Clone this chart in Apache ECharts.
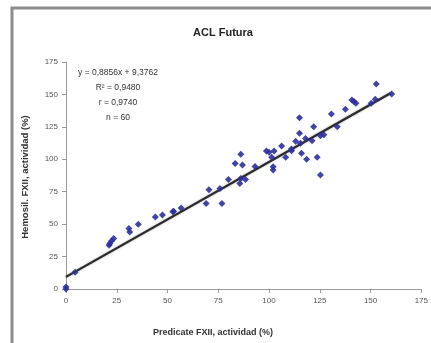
<!DOCTYPE html>
<html><head><meta charset="utf-8">
<script src="https://cdn.jsdelivr.net/npm/echarts@6/dist/echarts.min.js"></script>
<style>html,body{margin:0;padding:0;background:#fff}#c{width:431px;height:343px}</style>
</head><body><div id="c"></div>
<script>
const title = "ACL Futura";
const xName = "Predicate FXII, actividad (%)";
const yName = "Hemosil. FXII, actividad (%)";
const xTicks = [0, 25, 50, 75, 100, 125, 150, 175];
const yTicks = [0, 25, 50, 75, 100, 125, 150, 175];
const predicate = [0,0,4.5,21.2,21.6,22.4,23.5,31,31.4,35.6,44,47.5,52.6,56.7,69,70.4,75.8,76.8,80,83.3,85.6,86.1,86.1,86.9,88.4,93.1,98.7,101.3,102,102,102.5,106.2,108.2,111.1,113.1,115,115,115.5,116,118.5,121.2,122,123.7,125.3,125.3,130.7,133.6,137.6,140.8,142.8,150.3,152.3,152.8,160.4,141.8,53,111,100,118,127];
const hemosil = [0,1.5,13,33.7,35,37,38.9,46.6,44,50,55.6,57,59.5,62.5,66,76.5,77.5,66,84.5,96.8,81.4,85.2,103.8,95.5,84.5,94.5,106.3,101.5,94.2,91.7,106.3,110.2,101.5,106.6,114,120,132,112.3,104.6,100,114.3,125.1,101.5,118.1,87.8,134.9,125,138.5,145.7,143.2,143.2,146.2,158,150.3,144.5,60,108,105.5,116,119];
const slope = 0.8856, intercept = 9.3762;
const fitRange = [0, 160];
const statLines = ["y = 0,8856x + 9,3762", "R\u00B2 = 0,9480", "r = 0,9740", "n = 60"];

const pts = predicate.map((x, i) => [x, hemosil[i]]);
const fit = fitRange.map(x => [x, slope * x + intercept]);
const chart = echarts.init(document.getElementById('c'));
const F = 'Liberation Sans, Arial, sans-serif';
chart.setOption({
  animation: false,
  grid: {left: 66, right: 8, top: 62, bottom: 54},
  xAxis: {type: 'value', min: xTicks[0], max: xTicks[xTicks.length-1], interval: 25,
    splitLine: {show: false},
    axisLine: {lineStyle: {color: '#999', width: 1}},
    axisTick: {show: true, inside: false, length: 4, lineStyle: {color: '#999'}},
    axisLabel: {color: '#555', fontSize: 8, fontFamily: F, margin: 8}},
  yAxis: {type: 'value', min: yTicks[0], max: yTicks[yTicks.length-1], interval: 25,
    splitLine: {show: false},
    axisLine: {show: true, lineStyle: {color: '#999', width: 1}},
    axisTick: {show: true, length: 4, lineStyle: {color: '#999'}},
    axisLabel: {color: '#555', fontSize: 8, fontFamily: F, margin: 8}},
  series: [
    {type: 'line', data: fit, showSymbol: false, lineStyle: {color: '#2a2a2a', width: 2.2, shadowBlur: 2, shadowColor: 'rgba(0,0,0,0.4)'}, z: 3},
    {type: 'scatter', data: pts, symbol: 'diamond', symbolSize: 7, itemStyle: {color: '#2e2f9a', opacity: 0.9}, z: 4}
  ],
  graphic: [
    {type: 'rect', shape: {x: 12, y: 8, width: 440, height: 360}, style: {fill: 'none', stroke: '#8c8c8c', lineWidth: 3}},
    {type: 'text', x: 223, y: 33, style: {text: title, font: 'bold 11px ' + F, fill: '#222', textAlign: 'center', textVerticalAlign: 'middle'}},
    {type: 'text', x: 213, y: 333, style: {text: xName, font: 'bold 9px ' + F, fill: '#333', textAlign: 'center', textVerticalAlign: 'middle'}},
    {type: 'text', x: 25, y: 177, rotation: Math.PI/2, style: {text: yName, font: 'bold 9.5px ' + F, fill: '#333', textAlign: 'center', textVerticalAlign: 'middle'}},
    ...statLines.map((t, i) => ({type: 'text', x: 118, y: 73 + i * 15, style: {text: t, font: '8.5px ' + F, fill: '#333', textAlign: 'center', textVerticalAlign: 'middle'}}))
  ]
});
</script></body></html>
